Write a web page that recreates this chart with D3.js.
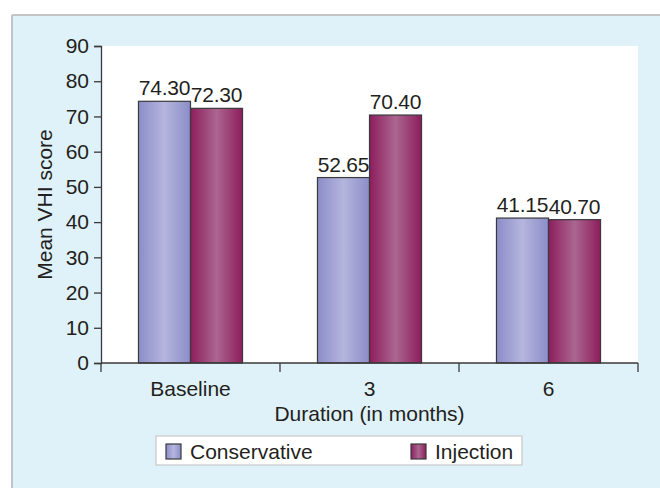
<!DOCTYPE html>
<html>
<head>
<meta charset="utf-8">
<script src="https://cdn.jsdelivr.net/npm/d3@7.9.0/dist/d3.min.js"></script>
<style>
  body { margin: 0; background: #fff; }
  svg { display: block; font-family: "Liberation Sans", Arial, sans-serif; }
</style>
</head>
<body>
<div id="chart"></div>
<script>
// Data
const categories = ['Baseline', '3', '6'];
const seriesNames = ['Conservative', 'Injection'];
const conservative = [74.30, 52.65, 41.15];
const injection = [72.30, 70.40, 40.70];
const yTicks = [0, 10, 20, 30, 40, 50, 60, 70, 80, 90];

const width = 660, height = 488;
const margin = { top: 46, right: 22, bottom: 125, left: 101 };
const fontSize = '21px';
const textColor = '#231f20';

const svg = d3.select('#chart').append('svg')
  .attr('width', width)
  .attr('height', height);

// Gradients for the bars
const defs = svg.append('defs');
function addGradient(id, edge, mid) {
  const g = defs.append('linearGradient').attr('id', id)
    .attr('x1', '0%').attr('x2', '100%').attr('y1', '0%').attr('y2', '0%');
  g.append('stop').attr('offset', '0%').attr('stop-color', edge);
  g.append('stop').attr('offset', '50%').attr('stop-color', mid);
  g.append('stop').attr('offset', '100%').attr('stop-color', edge);
}
addGradient('gradCons', '#8b8dc8', '#b5b5de');
addGradient('gradInj', '#8d1d5d', '#aa6690');
const fills = ['url(#gradCons)', 'url(#gradInj)'];

// Outer panel
svg.append('rect')
  .attr('x', 12).attr('y', 15)
  .attr('width', width - 12).attr('height', height - 15)
  .attr('fill', '#dff1f9');
svg.append('line')
  .attr('x1', 12).attr('x2', width).attr('y1', 15).attr('y2', 15)
  .attr('stroke', '#c4c4c4').attr('stroke-width', 2);
svg.append('line')
  .attr('x1', 12).attr('x2', 12).attr('y1', 15).attr('y2', height)
  .attr('stroke', '#c4c4c4').attr('stroke-width', 2);

const plotW = width - margin.left - margin.right;
const plotH = height - margin.top - margin.bottom;

// Plot area
svg.append('rect')
  .attr('x', margin.left).attr('y', margin.top)
  .attr('width', plotW).attr('height', plotH)
  .attr('fill', '#ffffff');

// Scales
const x0 = d3.scaleBand()
  .domain(categories)
  .range([margin.left, width - margin.right])
  .paddingInner(0)
  .paddingOuter(0);

const x1 = d3.scaleBand()
  .domain(seriesNames)
  .range([0, x0.bandwidth()])
  .paddingOuter(0.72)
  .paddingInner(0);

const y = d3.scaleLinear()
  .domain([0, 90])
  .range([height - margin.bottom, margin.top]);

const rows = categories.map((c, i) => ({
  cat: c,
  values: [
    { name: seriesNames[0], value: conservative[i], idx: 0 },
    { name: seriesNames[1], value: injection[i], idx: 1 }
  ]
}));

// Bars
const groups = svg.append('g').selectAll('g')
  .data(rows)
  .join('g')
  .attr('transform', d => `translate(${x0(d.cat)},0)`);

groups.selectAll('rect')
  .data(d => d.values)
  .join('rect')
  .attr('x', d => x1(d.name))
  .attr('y', d => y(d.value))
  .attr('width', x1.bandwidth())
  .attr('height', d => y(0) - y(d.value))
  .attr('fill', d => fills[d.idx])
  .attr('stroke', '#3a3a3a')
  .attr('stroke-width', 1.2);

// Value labels
groups.selectAll('text')
  .data(d => d.values)
  .join('text')
  .attr('x', d => x1(d.name) + x1.bandwidth() / 2)
  .attr('y', d => y(d.value) - 6)
  .attr('text-anchor', 'middle')
  .attr('font-size', fontSize)
  .attr('letter-spacing', '-0.2px')
  .attr('fill', textColor)
  .text(d => d.value.toFixed(2));

// Y axis
const yAxis = svg.append('g')
  .attr('transform', `translate(${margin.left},0)`)
  .call(d3.axisLeft(y).tickValues(yTicks).tickSize(7).tickPadding(5));
yAxis.select('.domain').attr('stroke', '#3a3a3a').attr('stroke-width', 1.3);
yAxis.selectAll('line').attr('stroke', '#3a3a3a').attr('stroke-width', 1.3);
yAxis.selectAll('text')
  .attr('font-size', fontSize)
  .attr('fill', textColor)
  .attr('font-family', '"Liberation Sans", Arial, sans-serif');

// X axis: line with tick marks at category boundaries
const xAxisG = svg.append('g');
xAxisG.append('line')
  .attr('x1', margin.left).attr('x2', width - margin.right)
  .attr('y1', y(0)).attr('y2', y(0))
  .attr('stroke', '#3a3a3a').attr('stroke-width', 1.3);
const bounds = categories.map(c => x0(c)).concat([x0(categories[categories.length - 1]) + x0.bandwidth()]);
xAxisG.selectAll('line.tick')
  .data(bounds)
  .join('line')
  .attr('class', 'tick')
  .attr('x1', d => d).attr('x2', d => d)
  .attr('y1', y(0)).attr('y2', y(0) + 9)
  .attr('stroke', '#3a3a3a').attr('stroke-width', 1.3);
xAxisG.selectAll('text')
  .data(categories)
  .join('text')
  .attr('x', d => x0(d) + x0.bandwidth() / 2)
  .attr('y', y(0) + 33)
  .attr('text-anchor', 'middle')
  .attr('font-size', fontSize)
  .attr('fill', textColor)
  .text(d => d);

// Axis titles
svg.append('text')
  .attr('x', (margin.left + width - margin.right) / 2)
  .attr('y', 421)
  .attr('text-anchor', 'middle')
  .attr('font-size', fontSize)
  .attr('fill', textColor)
  .text('Duration (in months)');

svg.append('text')
  .attr('transform', `translate(52,${(margin.top + y(0)) / 2}) rotate(-90)`)
  .attr('text-anchor', 'middle')
  .attr('font-size', fontSize)
  .attr('fill', textColor)
  .text('Mean VHI score');

// Legend
const legend = svg.append('g');
legend.append('rect')
  .attr('x', 156).attr('y', 436)
  .attr('width', 366).attr('height', 29)
  .attr('fill', '#ffffff')
  .attr('stroke', '#c8c8c8').attr('stroke-width', 1.2);
const legendX = [166, 411];
seriesNames.forEach((name, i) => {
  legend.append('rect')
    .attr('x', legendX[i]).attr('y', 444)
    .attr('width', 15).attr('height', 15)
    .attr('fill', fills[i])
    .attr('stroke', '#3a3a3a').attr('stroke-width', 1.2);
  legend.append('text')
    .attr('x', legendX[i] + 24).attr('y', 459)
    .attr('font-size', fontSize)
    .attr('fill', textColor)
    .text(name);
});
</script>
</body>
</html>
